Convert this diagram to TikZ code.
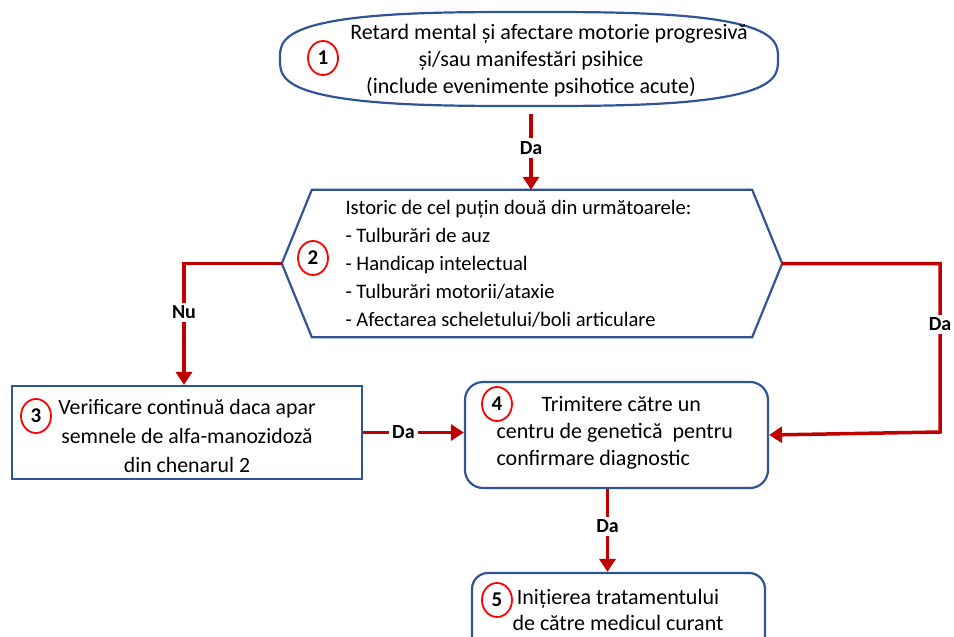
\documentclass[tikz,border=0pt]{standalone}
\usepackage{fontspec}
\setmainfont{Carlito}
\usetikzlibrary{arrows.meta,shapes.geometric}
\definecolor{boxblue}{RGB}{47,85,151}
\definecolor{arrred}{RGB}{192,0,0}

\begin{document}
\begin{tikzpicture}[x=1pt,y=-1pt,
  every node/.style={font=\fontsize{22}{27}\selectfont},
  box/.style={draw=boxblue,line width=2.2pt,fill=white},
  num/.style={ellipse,draw=red,line width=1.8pt,minimum width=30pt,minimum height=34pt,inner sep=0pt,font=\fontsize{21}{21}\selectfont\bfseries},
  go/.style={draw=arrred,line width=3.5pt,-{Triangle[width=16pt,length=13pt]}},
  ans/.style={fill=white,inner sep=3pt,font=\fontsize{20}{20}\selectfont\bfseries}]
  \useasboundingbox (0,0) rectangle (954,637);
  \clip (0,0) rectangle (954,637);

  % boxes
  \node[minimum width=498pt,minimum height=94pt,inner sep=0pt] (n1) at (529,59) {};
  \draw[box] plot[domain=0.5:360.5,samples=121,smooth]
    ({529+249*sign(cos(\x))*abs(cos(\x))^0.66},{59+47*sign(sin(\x))*abs(sin(\x))^0.66}) -- cycle;
  \node[minimum width=500pt,minimum height=147pt,inner sep=0pt] (n2) at (532,263.5) {};
  \draw[box] (n2.west) -- ([xshift=30pt]n2.north west) -- ([xshift=-30pt]n2.north east) -- (n2.east)
    -- ([xshift=-30pt]n2.south east) -- ([xshift=30pt]n2.south west) -- cycle;
  \node[box,minimum width=350pt,minimum height=93pt] (n3) at (187,432.5) {};
  \node[box,rounded corners=18pt,minimum width=303pt,minimum height=106pt] (n4) at (616.5,435) {};
  \node[box,rounded corners=16pt,minimum width=293pt,minimum height=90pt] (n5) at (618.5,618) {};

  % texts
  \node[align=center] (t1) at (531,61) {\hspace*{36pt}Retard mental și afectare motorie progresivă\\și/sau manifestări psihice\\(include evenimente psihotice acute)};
  \node[align=left,anchor=west,font=\fontsize{20.6}{28}\selectfont] (t2) at (342,264) {Istoric de cel puțin două din următoarele:\\- Tulburări de auz\\- Handicap intelectual\\- Tulburări motorii/ataxie\\- Afectarea scheletului/boli articulare};
  \node[align=center,font=\fontsize{21.8}{29}\selectfont] (t3) at (187,436) {Verificare continuă daca apar\\semnele de alfa-manozidoză\\din chenarul 2};
  \node[align=left,anchor=west] (t4) at (493,433) {\hspace*{45pt}Trimitere către un\\centru de genetică\ \ pentru\\confirmare diagnostic};
  \node[align=center,font=\fontsize{22}{26}\selectfont] (t5) at (618,610) {Inițierea tratamentului\\de către medicul curant};

  % numbers
  \node[num] (c1) at (323,58) {1};
  \node[num] (c2) at (313,258) {2};
  \node[num] (c3) at (36,416) {3};
  \node[num] (c4) at (497,404) {4};
  \node[num] (c5) at (497,600) {5};

  % arrows
  \coordinate (rt) at (940,432);
  \draw[go,shorten <=8pt] ([xshift=2pt]n1.south) -- node[ans] (a1) {Da} ([xshift=2pt]n1.south |- n2.north);
  \draw[go] (n2.west) -| node[ans,pos=0.7] (a2) {Nu} ([xshift=-3pt]n3.north);
  \draw[go] (n2.east) -| node[ans,pos=0.68] (a3) {Da} (rt) -- (n4.east);
  \draw[go] (n3.east) -- node[ans,pos=0.4] (a4) {Da} (n3.east -| n4.west);
  \draw[go] ([xshift=-9pt]n4.south) -- node[ans,pos=0.45] (a5) {Da} ([xshift=-9pt]n4.south |- n5.north);
\end{tikzpicture}
\end{document}
